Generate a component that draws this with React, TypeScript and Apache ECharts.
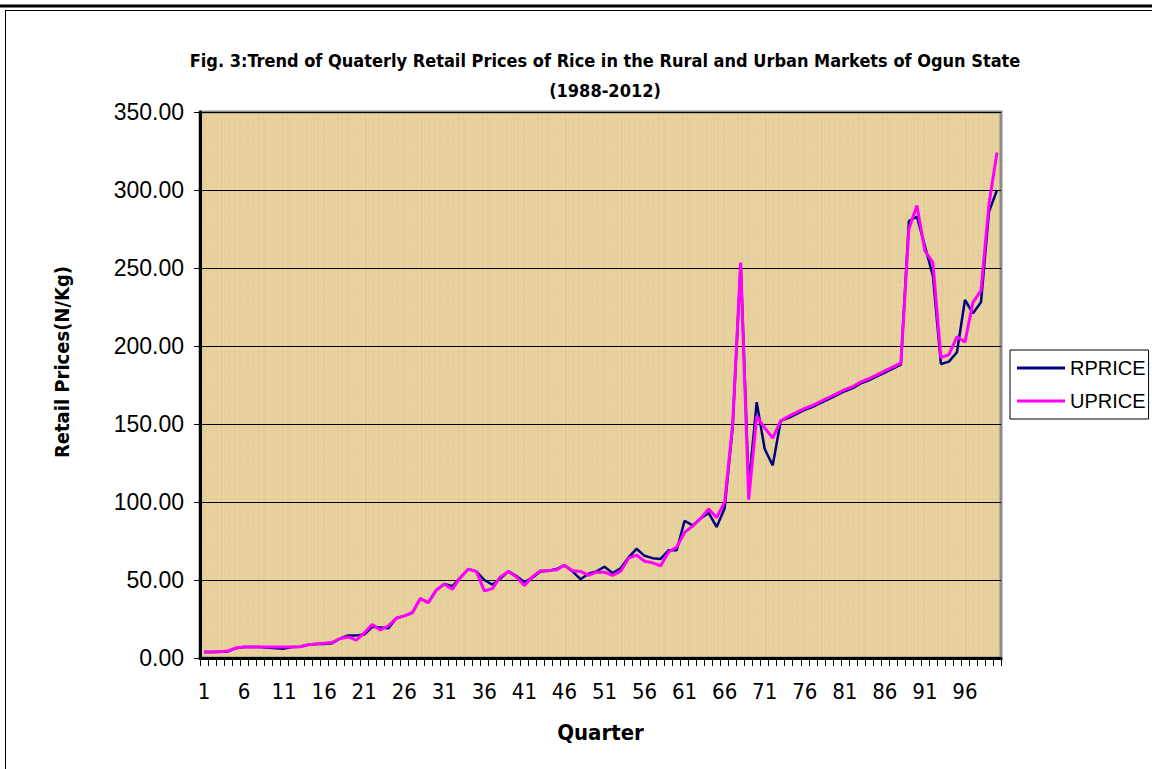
import React, { useEffect, useRef } from "react";
import * as echarts from "echarts";

const quarters: string[] = Array.from({ length: 100 }, (_, i) => String(i + 1));

const rprice: number[] = [
  3.8, 3.8, 4.0, 4.2, 6.3, 7.0, 7.0, 7.0, 6.5, 6.3,
  6.0, 7.0, 7.2, 8.5, 9.0, 9.0, 9.5, 12.5, 14.5, 14.5,
  15.0, 20.0, 19.5, 19.0, 25.5, 27.0, 29.0, 38.0, 35.5, 43.5,
  47.5, 46.0, 51.5, 57.0, 55.5, 50.0, 47.0, 51.0, 55.5, 52.5,
  48.5, 51.5, 55.5, 56.0, 57.0, 59.5, 55.5, 50.5, 54.0, 55.5,
  58.5, 54.5, 57.5, 64.5, 70.0, 65.5, 64.0, 63.5, 69.0, 69.0,
  88.0, 85.0, 89.5, 93.0, 84.0, 96.0, 148.0, 253.0, 110.0, 164.0,
  134.0, 123.5, 152.0, 154.0, 156.5, 159.0, 161.0, 163.5, 166.0, 168.5,
  171.0, 173.0, 176.0, 178.0, 180.5, 183.0, 185.5, 188.0, 280.0, 283.0,
  264.0, 245.0, 188.5, 190.0, 196.0, 229.5, 221.0, 228.0, 286.0, 300.0,
];

const uprice: number[] = [
  3.8, 3.8, 4.0, 4.5, 6.5, 7.0, 7.0, 7.0, 7.0, 7.0,
  7.0, 7.0, 7.2, 8.5, 9.0, 9.5, 10.0, 12.5, 13.5, 11.5,
  16.0, 21.5, 18.0, 20.5, 25.5, 27.0, 29.0, 38.0, 35.5, 43.5,
  47.5, 44.0, 51.5, 57.0, 55.5, 43.0, 44.5, 52.0, 55.5, 52.0,
  46.5, 52.0, 56.0, 56.0, 56.5, 59.5, 56.0, 55.5, 53.0, 55.0,
  55.0, 53.0, 55.5, 64.0, 66.0, 62.0, 61.0, 59.0, 68.0, 71.0,
  80.5, 84.5, 89.5, 95.5, 90.0, 100.0, 150.0, 253.5, 101.5, 155.0,
  147.5, 141.0, 152.0, 155.0, 157.5, 160.0, 162.0, 164.5, 167.0, 169.5,
  172.0, 174.0, 177.0, 179.0, 181.5, 184.0, 186.5, 189.0, 275.0, 290.0,
  261.0, 253.5, 192.5, 194.5, 206.0, 202.5, 228.0, 235.5, 291.0, 324.0,
];

const titleLines: string[] = [
  "Fig. 3:Trend of Quaterly Retail Prices of Rice in the Rural and Urban Markets of Ogun State",
  "(1988-2012)",
];

const NARROW = "'DejaVu Sans Condensed', 'Liberation Sans Narrow', sans-serif";
const SANS = "'Liberation Sans', Arial, sans-serif";

function makeTexture(): HTMLCanvasElement {
  const c = document.createElement("canvas");
  c.width = 200;
  c.height = 160;
  const ctx = c.getContext("2d")!;
  ctx.fillStyle = "#E8D29E";
  ctx.fillRect(0, 0, c.width, c.height);
  for (let x = 0; x < c.width; x += 3) {
    const a = 0.04 + 0.06 * Math.abs(Math.sin(x * 0.37) * Math.cos(x * 0.11));
    ctx.fillStyle = `rgba(170,130,60,${a.toFixed(3)})`;
    ctx.fillRect(x, 0, 1 + (x % 2), c.height);
  }
  for (let y = 0; y < c.height; y += 4) {
    const a = 0.04 + 0.05 * Math.abs(Math.sin(y * 0.29));
    ctx.fillStyle = `rgba(255,242,205,${a.toFixed(3)})`;
    ctx.fillRect(0, y, c.width, 2);
  }
  return c;
}

export default function App() {
  const ref = useRef<HTMLDivElement>(null);

  useEffect(() => {
    if (!ref.current) return;
    const chart = echarts.init(ref.current, null, { renderer: "svg" });
    let bg: any = "#E6CF9A";
    try {
      bg = { image: makeTexture(), repeat: "repeat" };
    } catch (e) {
      bg = "#E6CF9A";
    }
    chart.setOption({
      animation: false,
      backgroundColor: "#ffffff",
      title: {
        text: titleLines.join("\n"),
        left: 600,
        textAlign: "center",
        top: 40,
        textStyle: {
          fontFamily: NARROW,
          fontWeight: "bold",
          fontSize: 18,
          lineHeight: 30,
          color: "#000",
        },
      },
      legend: {
        left: 1010,
        top: 350,
        orient: "vertical",
        backgroundColor: "#fff",
        borderColor: "#000",
        borderWidth: 1,
        borderRadius: 0,
        padding: [8, 3, 8, 7],
        itemGap: 13,
        itemWidth: 48,
        itemHeight: 3,
        icon: "rect",
        textStyle: { fontFamily: SANS, fontSize: 20, color: "#000", padding: [0, 0, 0, 0] },
        data: ["RPRICE", "UPRICE"],
      },
      grid: {
        left: 200,
        right: 151,
        top: 112,
        bottom: 111,
        show: true,
        backgroundColor: bg,
        borderColor: "#8a8a8a",
        borderWidth: 3,
      },
      graphic: [
        { type: "line", shape: { x1: 0, y1: 6, x2: 1152, y2: 6 }, style: { stroke: "#000", lineWidth: 3 } },
        { type: "line", shape: { x1: 5, y1: 10.5, x2: 1152, y2: 10.5 }, style: { stroke: "#000", lineWidth: 1 } },
        { type: "line", shape: { x1: 5.5, y1: 10, x2: 5.5, y2: 769 }, style: { stroke: "#000", lineWidth: 1 } },
        {
          type: "text",
          x: 62,
          y: 362,
          rotation: Math.PI / 2,
          style: {
            text: "Retail Prices(N/Kg)",
            fontFamily: NARROW,
            fontWeight: "bold",
            fontSize: 20,
            fill: "#000",
            textAlign: "center",
            textVerticalAlign: "middle",
          },
        },
      ],
      xAxis: {
        type: "category",
        data: quarters,
        boundaryGap: true,
        name: "Quarter",
        nameLocation: "middle",
        nameGap: 63,
        nameTextStyle: { fontFamily: NARROW, fontWeight: "bold", fontSize: 22, color: "#000" },
        axisLine: { lineStyle: { color: "#000", width: 3 } },
        axisTick: { show: true, interval: 0, length: 8, lineStyle: { color: "#000", width: 1 } },
        axisLabel: {
          interval: 4,
          margin: 22,
          fontFamily: NARROW,
          fontSize: 22,
          color: "#000",
        },
        splitLine: { show: false },
      },
      yAxis: {
        type: "value",
        min: 0,
        max: 350,
        interval: 50,
        axisLine: { show: true, lineStyle: { color: "#000", width: 3 } },
        axisTick: { show: true, length: 6, lineStyle: { color: "#000", width: 1 } },
        axisLabel: {
          margin: 16,
          fontFamily: SANS,
          fontSize: 23,
          color: "#000",
          formatter: (v: number) => v.toFixed(2),
        },
        splitLine: { show: true, lineStyle: { color: "#000", width: 1.2 } },
      },
      series: [
        {
          name: "RPRICE",
          type: "line",
          data: rprice,
          symbol: "none",
          lineStyle: { color: "#000080", width: 2.5 },
          itemStyle: { color: "#000080" },
        },
        {
          name: "UPRICE",
          type: "line",
          data: uprice,
          symbol: "none",
          lineStyle: { color: "#FF00FF", width: 3 },
          itemStyle: { color: "#FF00FF" },
        },
      ],
    });
    return () => chart.dispose();
  }, []);

  return (
    <div
      ref={ref}
      style={{ position: "absolute", left: 0, top: 0, width: 1152, height: 769 }}
    />
  );
}
